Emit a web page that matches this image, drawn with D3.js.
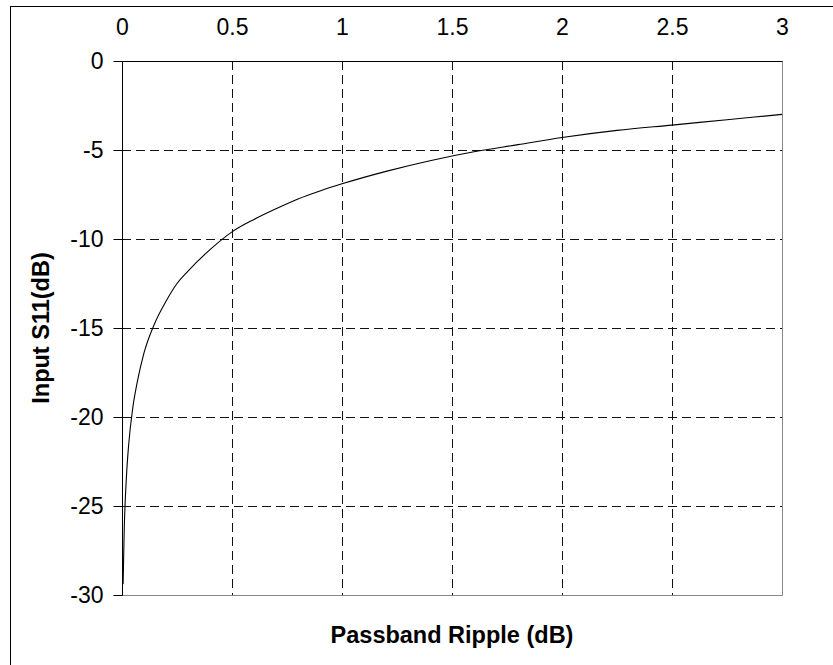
<!DOCTYPE html>
<html>
<head>
<meta charset="utf-8">
<script src="https://cdn.jsdelivr.net/npm/d3@7"></script>
<style>
  body { margin: 0; background: #fff; }
  text { font-family: "Liberation Sans", Arial, sans-serif; }
</style>
</head>
<body>
<div id="chart"></div>
<script>
// ripple (dB) vs input S11 (dB)
const ripple = [0.005, 0.01, 0.02, 0.03, 0.05, 0.07, 0.1, 0.15, 0.2, 0.25, 0.3, 0.4, 0.5,
    0.6, 0.7, 0.8, 0.9, 1.0, 1.2, 1.4, 1.6, 1.8, 2.0, 2.25, 2.5, 2.75, 3.0];
const s11 = [-29.4, -26.4, -23.4, -21.6, -19.4, -18.0, -16.4, -14.7, -13.5, -12.5, -11.8, -10.6, -9.6,
    -8.9, -8.3, -7.75, -7.3, -6.9, -6.2, -5.6, -5.1, -4.7, -4.3, -3.9, -3.6, -3.3, -3.0];
const xTicks = [0, 0.5, 1, 1.5, 2, 2.5, 3];
const yTicks = [0, -5, -10, -15, -20, -25, -30];

const width = 833, height = 665;
const plotL = 122, plotR = 782, plotT = 61, plotB = 595;

const svg = d3.select("#chart").append("svg")
    .attr("width", width)
    .attr("height", height);

// outer frame (only left and top visible)
svg.append("rect")
    .attr("x", 10.5).attr("y", 6.5)
    .attr("width", 900).attr("height", 800)
    .attr("fill", "none").attr("stroke", "#000").attr("stroke-width", 1);

const x = d3.scaleLinear().domain([0, 3]).range([plotL, plotR]);
const y = d3.scaleLinear().domain([0, -30]).range([plotT, plotB]);

// gridlines
svg.append("g").selectAll("line")
    .data(xTicks.filter(d => d > 0 && d < 3))
    .enter().append("line")
    .attr("x1", d => Math.round(x(d)) + 0.5).attr("x2", d => Math.round(x(d)) + 0.5)
    .attr("y1", plotT).attr("y2", plotB)
    .attr("stroke", "#111").attr("stroke-dasharray", "9,5");

svg.append("g").selectAll("line")
    .data(yTicks.filter(d => d < 0 && d > -30))
    .enter().append("line")
    .attr("y1", d => Math.round(y(d)) + 0.5).attr("y2", d => Math.round(y(d)) + 0.5)
    .attr("x1", plotL).attr("x2", plotR)
    .attr("stroke", "#111").attr("stroke-dasharray", "9,5");

// plot border: right and bottom gray, top black
svg.append("line").attr("x1", plotR + 0.5).attr("x2", plotR + 0.5)
    .attr("y1", plotT).attr("y2", plotB + 0.5).attr("stroke", "#888");
svg.append("line").attr("x1", plotL).attr("x2", plotR + 0.5)
    .attr("y1", plotB + 0.5).attr("y2", plotB + 0.5).attr("stroke", "#888");
svg.append("line").attr("x1", plotL).attr("x2", plotR + 0.5)
    .attr("y1", plotT + 0.5).attr("y2", plotT + 0.5).attr("stroke", "#000");

// y axis on the left, ticks outward
const yAxis = svg.append("g")
    .attr("transform", `translate(${plotL + 0.5},0)`)
    .call(d3.axisLeft(y).tickValues(yTicks).tickSize(9).tickPadding(10).tickFormat(d => String(d)));
yAxis.select(".domain").remove();
yAxis.append("line").attr("y1", plotT).attr("y2", plotB + 0.5).attr("stroke", "#000");
yAxis.selectAll("text")
    .style("font-size", "23px").style("font-family", "Liberation Sans, Arial, sans-serif")
    .attr("fill", "#000");
yAxis.selectAll(".tick line").attr("stroke", "#000");

// x axis labels on top, no tick marks
const xAxis = svg.append("g")
    .attr("transform", `translate(0,${plotT})`)
    .call(d3.axisTop(x).tickValues(xTicks).tickSize(0).tickPadding(26).tickFormat(d => String(d)));
xAxis.select(".domain").remove();
xAxis.selectAll("text")
    .style("font-size", "23px").style("font-family", "Liberation Sans, Arial, sans-serif")
    .attr("fill", "#000");

// curve
const line = d3.line()
    .x((d, i) => x(ripple[i]))
    .y(d => y(d))
    .curve(d3.curveMonotoneX);
svg.append("path")
    .datum(s11)
    .attr("d", line)
    .attr("fill", "none")
    .attr("stroke", "#000")
    .attr("stroke-width", 1.1);

// axis titles
svg.append("text")
    .attr("x", (plotL + plotR) / 2).attr("y", 643)
    .attr("text-anchor", "middle")
    .style("font-size", "23.5px").attr("font-weight", "bold")
    .text("Passband Ripple (dB)");

svg.append("text")
    .attr("transform", `translate(49,${(plotT + plotB) / 2}) rotate(-90)`)
    .attr("text-anchor", "middle")
    .style("font-size", "23.5px").attr("font-weight", "bold")
    .text("Input S11(dB)");
</script>
</body>
</html>
